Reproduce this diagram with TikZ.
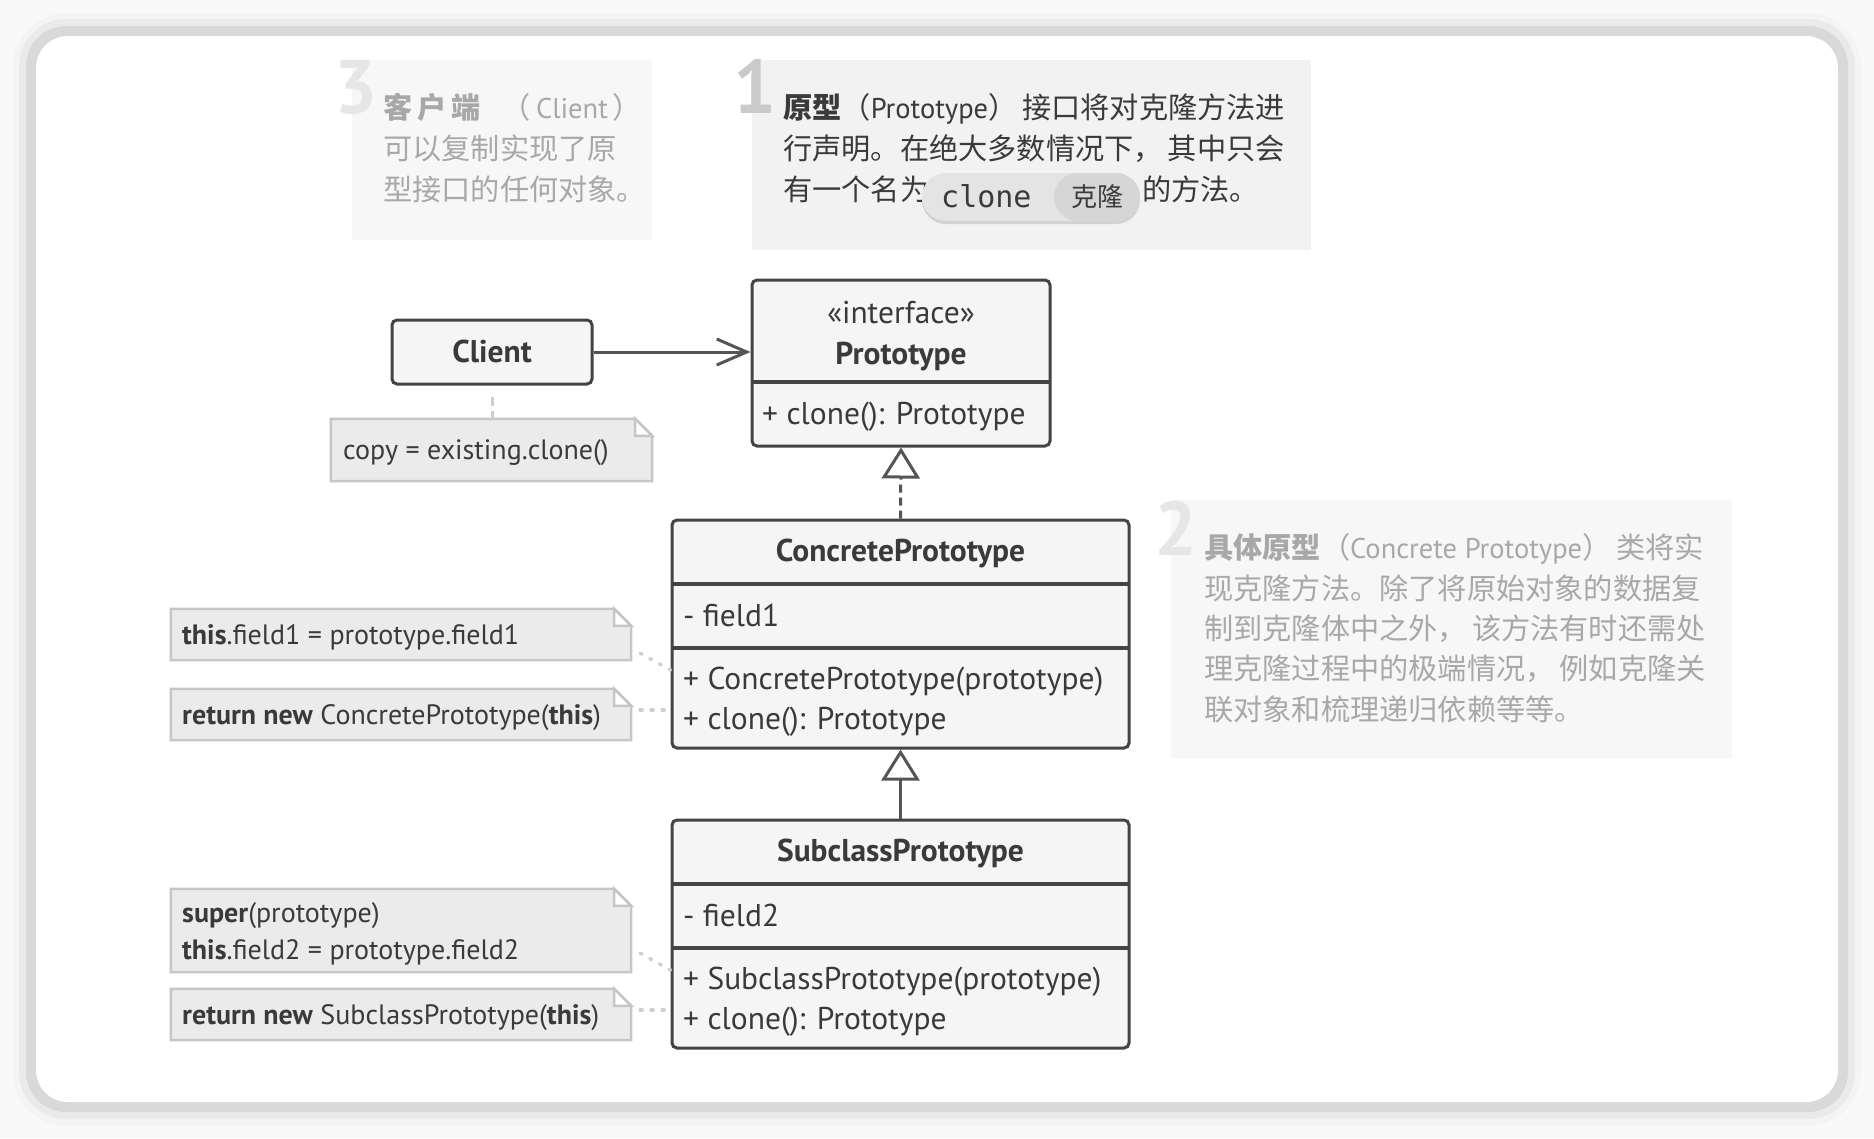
\documentclass[tikz,border=0pt]{standalone}
\usepackage{fontspec}
\setmainfont{PT Sans}
\newfontfamily\cjk{Noto Sans CJK SC}
\newfontfamily\ptlatin{PT Sans}
\newfontfamily\monof{DejaVu Sans Mono}
\usetikzlibrary{arrows.meta,calc}
\definecolor{cbg}{HTML}{F9F9F9}
\definecolor{cshA}{HTML}{F4F4F4}
\definecolor{cshB}{HTML}{EAEAEA}
\definecolor{cshC}{HTML}{D9D9D9}
\definecolor{cdark}{HTML}{444444}
\definecolor{carrow}{HTML}{555555}
\definecolor{cfill}{HTML}{F5F5F5}
\definecolor{ctext}{HTML}{3A3A3A}
\definecolor{cnotefill}{HTML}{EBEBEB}
\definecolor{cnoteline}{HTML}{C6C6C6}
\definecolor{cconn}{HTML}{CFCFCF}
\definecolor{cfaint}{HTML}{A8A8A8}
\definecolor{cbgA}{HTML}{F2F2F2}
\definecolor{cbgB}{HTML}{F7F7F7}
\definecolor{cnumA}{HTML}{CACACA}
\definecolor{cnumB}{HTML}{E6E6E6}
\definecolor{cpill}{HTML}{E4E4E4}
\definecolor{cpillB}{HTML}{D6D6D6}
\definecolor{cpillsh}{HTML}{D2D2D2}
\newcommand\fUml{\fontsize{31.5}{36}\selectfont}
\newcommand\fNote{\fontsize{28}{32}\selectfont}
\newcommand\fCjk{\cjk\fontsize{29.2}{40}\selectfont}
\newcommand\fNum{\fontsize{76}{76}\selectfont\bfseries}
\newcommand\lat[1]{{\ptlatin\fontsize{28.5}{40}\selectfont #1}}
\newcommand\gp{\hspace{5pt}}
\tikzset{
  classbox/.style={draw=cdark, line width=3pt, fill=cfill, rounded corners=5pt, inner sep=0pt},
  divider/.style={draw=cdark, line width=4pt},
  txt/.style={inner sep=0pt, text=ctext, font=\fUml},
  notetxt/.style={inner sep=0pt, text=ctext, font=\fNote, anchor=base west},
  notearea/.style={inner sep=0pt, draw=none},
  noteline/.style={draw=cnoteline, line width=2.5pt, line join=miter},
  dotconn/.style={draw=cconn, line width=3.5pt, line cap=round, dash pattern=on 2pt off 9pt},
  dashconn/.style={draw=cconn, line width=3pt, dash pattern=on 9pt off 5pt},
  assoc/.style={draw=carrow, line width=3pt, -{Straight Barb[length=30pt,width=26pt]}},
  realize/.style={draw=carrow, line width=3pt, dash pattern=on 8pt off 5pt, -{Triangle[length=31pt,width=38pt,fill=white]}},
  inherit/.style={draw=carrow, line width=3pt, -{Triangle[length=31pt,width=38pt,fill=white]}},
  bignum/.style={inner sep=0pt, anchor=base west, font=\fNum},
  cjkA/.style={inner sep=0pt, anchor=base west, font=\fCjk, text=ctext},
  cjkB/.style={inner sep=0pt, anchor=base west, font=\fCjk, text=cfaint},
}
\newcommand\drawnote[1]{%
  \path[fill=cnotefill, noteline] (#1.north west) -- ([xshift=-17pt]#1.north east) -- ([yshift=-17pt]#1.north east) -- (#1.south east) -- (#1.south west) -- cycle;
  \path[fill=white, noteline] ([xshift=-17pt]#1.north east) -- ([xshift=-17pt,yshift=-17pt]#1.north east) -- ([yshift=-17pt]#1.north east) -- cycle;
}
\begin{document}
\begin{tikzpicture}[x=1pt,y=-1pt]
\useasboundingbox (0,0) rectangle (1874,1138);
% frame
\fill[cbg] (0,0) rectangle (1874,1138);
\fill[cshA, rounded corners=54pt] (13,13) rectangle (1861,1126);
\fill[cshB, rounded corners=47pt] (19,19) rectangle (1855,1119);
\fill[cshC, rounded corners=40pt] (26,26) rectangle (1848,1112);
\fill[white, rounded corners=32pt] (36,36) rectangle (1838,1102);

% callout 3
\fill[cbgB] (352,60) rectangle (652,240);
\node[bignum, text=cnumB] (num3) at (334,113) {3};
\node[cjkB] (c3a) at (383,118) {{\bfseries 客\hspace{5pt}户\hspace{5pt}端}\hspace{21pt}（\hspace{5pt}\lat{Client}\hspace{5pt}）};
\node[cjkB] (c3b) at (383,159) {可以复制实现了原};
\node[cjkB] (c3c) at (383,200) {型接口的任何对象。};

% callout 1
\fill[cbgA] (752,60) rectangle (1311,250);
\node[bignum, text=cnumA] (num1) at (733,113) {1};
\node[cjkA] (c1a) at (783,118) {{\bfseries 原型}（\lat{Prototype}）\gp 接口将对克隆方法进};
\node[cjkA] (c1b) at (783,159) {行声明。在绝大多数情况下，\gp 其中只会};
\node[cjkA] (c1c) at (783,200) {有一个名为};
\fill[cpillsh, rounded corners=24pt] (922,176) rectangle (1140,224);
\fill[cpill, rounded corners=24pt] (922,173) rectangle (1140,221);
\fill[cpillB, rounded corners=24pt] (1054,173) rectangle (1140,221);
\node[inner sep=0pt, anchor=base west, text=ctext] (clone) at (941,207) {\monof\fontsize{30}{30}\selectfont clone};
\node[inner sep=0pt, anchor=base, text=ctext] (klong) at (1097,206) {\cjk\fontsize{26}{26}\selectfont 克隆};
\node[cjkA] (c1d) at (1142,200) {的方法。};

% callout 2
\fill[cbgB] (1171,500) rectangle (1732,758);
\node[bignum, text=cnumB] (num2) at (1154,555) {2};
\node[cjkB] (c2a) at (1204,558) {{\bfseries 具体原型}（\lat{Concrete Prototype}）\gp 类将实};
\node[cjkB] (c2b) at (1204,599) {现克隆方法。除了将原始对象的数据复};
\node[cjkB] (c2c) at (1204,639) {制到克隆体中之外，\gp 该方法有时还需处};
\node[cjkB] (c2d) at (1204,679) {理克隆过程中的极端情况，\gp 例如克隆关};
\node[cjkB] (c2e) at (1204,720) {联对象和梳理递归依赖等等。};

% Client
\node[classbox, minimum width=200pt, minimum height=64pt] (client) at (492,352) {};
\node[txt, anchor=base] (clientt) at (492,362) {\bfseries Client};

% copy note
\node[notearea, minimum width=321pt, minimum height=62pt] (cnote) at (491.5,450) {};
\drawnote{cnote}
\node[notetxt] (cnotet) at (343,459) {copy = existing.clone()};
\draw[dashconn] ([yshift=-11pt]client.south) -- (client.south |- cnote.north);

% Prototype
\node[classbox, minimum width=298pt, minimum height=166pt] (proto) at (901,363) {};
\draw[divider] (752,382) -- (1050,382);
\node[txt, anchor=base] (protos) at (901,323) {«interface»};
\node[txt, anchor=base] (protot) at (901,364.5) {\bfseries Prototype};
\node[txt, anchor=base west] (protom) at (762,424) {+ clone(): Prototype};

\draw[assoc] (client.east) -- (proto.west |- client.east);

% ConcretePrototype
\node[classbox, minimum width=457pt, minimum height=228pt] (concrete) at (900.5,634) {};
\draw[divider] (672,584) -- (1129,584);
\draw[divider] (672,648) -- (1129,648);
\node[txt, anchor=base] (concretet) at (900.5,561) {\bfseries ConcretePrototype};
\node[txt, anchor=base west] (concretef) at (683,626) {- field1};
\node[txt, anchor=base west] (concretem1) at (683,689.5) {+ ConcretePrototype(prototype)};
\node[txt, anchor=base west] (concretem2) at (683,729.5) {+ clone(): Prototype};

\draw[realize] (concrete.north) -- (proto.south);

% SubclassPrototype
\node[classbox, minimum width=457pt, minimum height=228pt] (subclass) at (900.5,934) {};
\draw[divider] (672,884) -- (1129,884);
\draw[divider] (672,948) -- (1129,948);
\node[txt, anchor=base] (subclasst) at (900.5,861) {\bfseries SubclassPrototype};
\node[txt, anchor=base west] (subclassf) at (683,926) {- field2};
\node[txt, anchor=base west] (subclassm1) at (683,989.5) {+ SubclassPrototype(prototype)};
\node[txt, anchor=base west] (subclassm2) at (683,1029.5) {+ clone(): Prototype};

\draw[inherit] (subclass.north) -- (concrete.south);

% notes
\node[notearea, minimum width=460pt, minimum height=51pt] (n1) at (401,634.5) {};
\drawnote{n1}
\node[notetxt] (n1t) at (182,644.5) {\textbf{this}.field1 = prototype.field1};
\node[notearea, minimum width=460pt, minimum height=51pt] (n2) at (401,714.5) {};
\drawnote{n2}
\node[notetxt] (n2t) at (182,724.5) {\textbf{return new} ConcretePrototype(\textbf{this})};
\node[notearea, minimum width=460pt, minimum height=83pt] (n3) at (401,930.5) {};
\drawnote{n3}
\node[notetxt] (n3t) at (182,922) {\textbf{super}(prototype)};
\node[notetxt] (n3u) at (182,959.5) {\textbf{this}.field2 = prototype.field2};
\node[notearea, minimum width=460pt, minimum height=51pt] (n4) at (401,1014.5) {};
\drawnote{n4}
\node[notetxt] (n4t) at (182,1024.5) {\textbf{return new} SubclassPrototype(\textbf{this})};

\draw[dotconn] ([shift={(9,-7)}]n1.south east) -- ([shift={(0,36)}]concrete.west);
\draw[dotconn] ([shift={(9,-4.5)}]n2.east) -- ([shift={(0,76)}]concrete.west);
\draw[dotconn] ([shift={(9,-19)}]n3.south east) -- ([shift={(0,36)}]subclass.west);
\draw[dotconn] ([shift={(9,-4.5)}]n4.east) -- ([shift={(0,76)}]subclass.west);
\end{tikzpicture}
\end{document}
